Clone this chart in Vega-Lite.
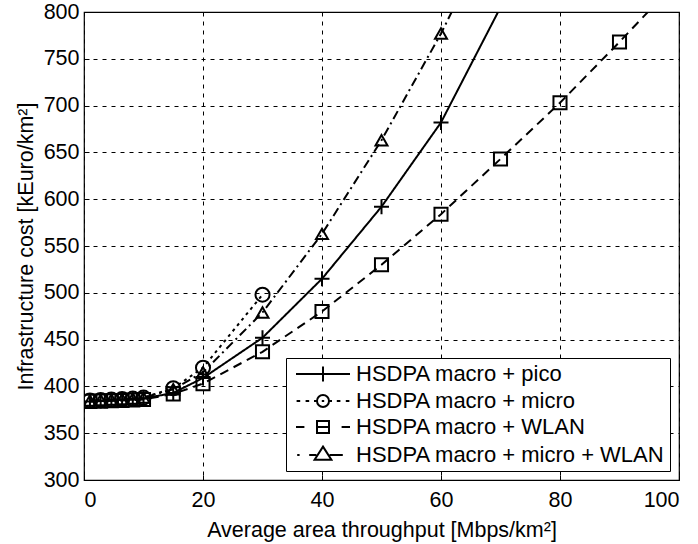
{
  "$schema": "https://vega.github.io/schema/vega-lite/v6.json",
  "width": 595,
  "height": 468,
  "autosize": {"type": "none"},
  "padding": {"left": 84, "top": 12, "right": 19, "bottom": 64},
  "background": "white",
  "config": {
    "font": "Liberation Sans",
    "view": {"stroke": "black", "strokeWidth": 1.2},
    "axis": {
      "labelFont": "Liberation Sans",
      "labelFontSize": 21.5,
      "labelColor": "black",
      "titleFont": "Liberation Sans",
      "titleFontSize": 21.5,
      "titleFontWeight": "normal",
      "titleColor": "black",
      "domain": false,
      "grid": true,
      "gridColor": "black",
      "gridDash": [4, 5],
      "gridWidth": 1,
      "gridOpacity": 1,
      "tickColor": "black",
      "tickSize": -5,
      "tickWidth": 1
    }
  },
  "data": {
    "values": [
      {"series": "HSDPA macro + pico", "x": 1, "y": 384},
      {"series": "HSDPA macro + pico", "x": 2.8, "y": 384.5},
      {"series": "HSDPA macro + pico", "x": 4.6, "y": 385},
      {"series": "HSDPA macro + pico", "x": 6.4, "y": 385.5},
      {"series": "HSDPA macro + pico", "x": 8.2, "y": 386},
      {"series": "HSDPA macro + pico", "x": 10, "y": 387},
      {"series": "HSDPA macro + pico", "x": 15, "y": 393},
      {"series": "HSDPA macro + pico", "x": 20, "y": 409},
      {"series": "HSDPA macro + pico", "x": 30, "y": 452},
      {"series": "HSDPA macro + pico", "x": 40, "y": 515},
      {"series": "HSDPA macro + pico", "x": 50, "y": 592},
      {"series": "HSDPA macro + pico", "x": 60, "y": 682},
      {"series": "HSDPA macro + pico", "x": 70, "y": 805},
      {"series": "HSDPA macro + micro", "x": 1, "y": 385},
      {"series": "HSDPA macro + micro", "x": 2.8, "y": 385.5},
      {"series": "HSDPA macro + micro", "x": 4.6, "y": 386},
      {"series": "HSDPA macro + micro", "x": 6.4, "y": 386.5},
      {"series": "HSDPA macro + micro", "x": 8.2, "y": 387},
      {"series": "HSDPA macro + micro", "x": 10, "y": 388},
      {"series": "HSDPA macro + micro", "x": 15, "y": 398},
      {"series": "HSDPA macro + micro", "x": 20, "y": 420},
      {"series": "HSDPA macro + micro", "x": 30, "y": 498},
      {"series": "HSDPA macro + WLAN", "x": 1, "y": 384},
      {"series": "HSDPA macro + WLAN", "x": 2.8, "y": 384.3},
      {"series": "HSDPA macro + WLAN", "x": 4.6, "y": 384.7},
      {"series": "HSDPA macro + WLAN", "x": 6.4, "y": 385},
      {"series": "HSDPA macro + WLAN", "x": 8.2, "y": 385.5},
      {"series": "HSDPA macro + WLAN", "x": 10, "y": 386},
      {"series": "HSDPA macro + WLAN", "x": 15, "y": 392},
      {"series": "HSDPA macro + WLAN", "x": 20, "y": 403},
      {"series": "HSDPA macro + WLAN", "x": 30, "y": 437},
      {"series": "HSDPA macro + WLAN", "x": 40, "y": 480},
      {"series": "HSDPA macro + WLAN", "x": 50, "y": 530},
      {"series": "HSDPA macro + WLAN", "x": 60, "y": 584},
      {"series": "HSDPA macro + WLAN", "x": 70, "y": 643},
      {"series": "HSDPA macro + WLAN", "x": 80, "y": 703},
      {"series": "HSDPA macro + WLAN", "x": 90, "y": 768},
      {"series": "HSDPA macro + WLAN", "x": 100, "y": 835},
      {"series": "HSDPA macro + micro + WLAN", "x": 1, "y": 385},
      {"series": "HSDPA macro + micro + WLAN", "x": 2.8, "y": 385.5},
      {"series": "HSDPA macro + micro + WLAN", "x": 4.6, "y": 386},
      {"series": "HSDPA macro + micro + WLAN", "x": 6.4, "y": 386.5},
      {"series": "HSDPA macro + micro + WLAN", "x": 8.2, "y": 387},
      {"series": "HSDPA macro + micro + WLAN", "x": 10, "y": 388},
      {"series": "HSDPA macro + micro + WLAN", "x": 15, "y": 397},
      {"series": "HSDPA macro + micro + WLAN", "x": 20, "y": 415},
      {"series": "HSDPA macro + micro + WLAN", "x": 30, "y": 479},
      {"series": "HSDPA macro + micro + WLAN", "x": 40, "y": 563},
      {"series": "HSDPA macro + micro + WLAN", "x": 50, "y": 663},
      {"series": "HSDPA macro + micro + WLAN", "x": 60, "y": 777},
      {"series": "HSDPA macro + micro + WLAN", "x": 70, "y": 905}
    ]
  },
  "layer": [
    {
      "mark": {"type": "line", "clip": true, "color": "black", "strokeWidth": 2},
      "encoding": {
        "x": {
          "field": "x", "type": "quantitative",
          "scale": {"domain": [0, 100], "nice": false},
          "axis": {"values": [0, 20, 40, 60, 80, 100], "title": "Average area throughput [Mbps/km²]", "labelPadding": 14, "titlePadding": 9}
        },
        "y": {
          "field": "y", "type": "quantitative",
          "scale": {"domain": [300, 800], "nice": false, "zero": false},
          "axis": {"values": [300, 350, 400, 450, 500, 550, 600, 650, 700, 750, 800], "title": "Infrastructure cost [kEuro/km²]", "labelPadding": 10, "titlePadding": 6}
        },
        "strokeDash": {
          "field": "series", "type": "nominal",
          "scale": {
            "domain": ["HSDPA macro + pico", "HSDPA macro + micro", "HSDPA macro + WLAN", "HSDPA macro + micro + WLAN"],
            "range": [[1, 0], [3, 4], [9, 6], [9, 4, 2, 4]]
          },
          "legend": null
        }
      }
    },
    {
      "transform": [{"filter": "datum.y <= 800"}],
      "mark": {"type": "point", "clip": true, "filled": false, "color": "black", "strokeWidth": 2, "opacity": 1},
      "encoding": {
        "x": {"field": "x", "type": "quantitative"},
        "y": {"field": "y", "type": "quantitative"},
        "shape": {
          "field": "series", "type": "nominal",
          "scale": {
            "domain": ["HSDPA macro + pico", "HSDPA macro + micro", "HSDPA macro + WLAN", "HSDPA macro + micro + WLAN"],
            "range": ["M-1,0H1M0,-1V1", "circle", "square", "triangle-up"]
          },
          "legend": null
        },
        "size": {
          "field": "series", "type": "nominal",
          "scale": {
            "domain": ["HSDPA macro + pico", "HSDPA macro + micro", "HSDPA macro + WLAN", "HSDPA macro + micro + WLAN"],
            "range": [225, 144, 121, 256]
          },
          "legend": null
        }
      }
    },
    {
      "mark": {"type": "point", "filled": false, "color": "black", "opacity": 0},
      "encoding": {
        "x": {"field": "x", "type": "quantitative"},
        "y": {"field": "y", "type": "quantitative"},
        "shape": {
          "field": "series", "type": "nominal",
          "scale": {
            "domain": ["HSDPA macro + pico", "HSDPA macro + micro", "HSDPA macro + WLAN", "HSDPA macro + micro + WLAN"],
            "range": [
              "M-1,0H8M3.5,-1.25V1.25",
              "M-0.9,0H-0.3M0.6,0H1.2M2,0H2.5M3.3,0H3.7M4.5,0H5M5.8,0H6.4M7.3,0H7.9M4.5,0A1,1 0 1,1 2.5,0A1,1 0 1,1 4.5,0",
              "M-1,0H0.4M2.5,0H4.5M6.6,0H8M2.5,-1H4.5V1H2.5Z",
              "M-0.8,0H-0.4M1.2,0H2.4M4.6,0H6.8M3.5,-1.4L4.9,0.8L2.1,0.8Z"
            ]
          },
          "legend": {
            "title": null,
            "orient": "bottom-right",
            "offset": 9,
            "padding": 5,
            "rowPadding": 4,
            "strokeColor": "black",
            "fillColor": "white",
            "labelFont": "Liberation Sans",
            "labelFontSize": 22,
            "labelColor": "black",
            "labelLimit": 500,
            "labelOffset": 43,
            "symbolSize": 144,
            "symbolStrokeWidth": 2,
            "symbolStrokeColor": "black",
            "symbolFillColor": "transparent",
            "symbolOpacity": 1
          }
        }
      }
    }
  ],
  "resolve": {"scale": {"shape": "independent"}}
}
